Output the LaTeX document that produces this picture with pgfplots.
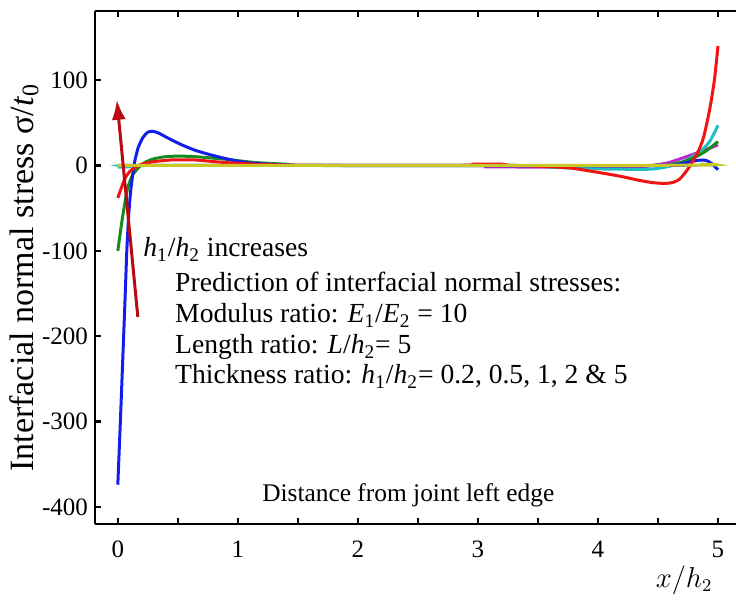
\documentclass[border=0pt]{standalone}
\usepackage{fontspec}
\setmainfont{Liberation Serif}
\usepackage{pgfplots}
\pgfplotsset{compat=1.18}
\usetikzlibrary{arrows.meta}
\definecolor{cBlue}{RGB}{20,30,235}
\definecolor{cRed}{RGB}{240,20,20}
\definecolor{cGreen}{RGB}{20,140,30}
\definecolor{cCyan}{RGB}{30,190,190}
\definecolor{cMag}{RGB}{190,40,200}
\definecolor{cYel}{RGB}{200,200,40}
\definecolor{cArrow}{RGB}{185,10,20}
\newcommand{\sub}[1]{\textsubscript{#1}}
\tikzset{txt/.style={anchor=base west, inner sep=0pt, font=\fontsize{13.8}{13.8}\selectfont}}

\begin{document}
\begin{tikzpicture}
\begin{axis}[
  scale only axis,
  width=320.5pt, height=256.5pt,
  xmin=-0.19, xmax=5.15, ymin=-420, ymax=181,
  axis x line=box, axis y line=left,
  xtick pos=both, ytick pos=left,
  axis line style={-, line width=1.2pt},
  tick align=inside,
  major tick length=3pt, minor tick length=3pt,
  tick style={line width=1.1pt, black},
  xtick={0,...,5}, minor xtick={0.5,1.5,2.5,3.5,4.5},
  ytick={-400,-300,-200,-100,0,100},
  /pgf/number format/assume math mode=true,
  ticklabel style={font=\fontsize{12.5}{12.5}\selectfont},
  xticklabel style={yshift=-5pt},
  ylabel={Interfacial normal stress σ/\textit{t}\sub{0}},
  ylabel style={font=\fontsize{17}{17}\selectfont,
    at={(axis description cs:-0.111,0.48)}, anchor=center},
  xlabel={$x/h_2$},
  xlabel style={font=\fontsize{13.5}{13.5}\selectfont,
    at={(axis description cs:0.919,-0.109)}, anchor=center},
  every axis plot/.append style={line width=1.5pt, smooth, tension=0.4},
]
% h1/h2 series near the interface
\addplot[cMag] coordinates {(0,0) (3.0,0) (3.06,-1.5) (3.6,-2) (4.0,-3) (4.3,-2.5) (4.45,0) (4.58,3) (4.71,9) (4.85,16) (5.0,24)};
\addplot[cCyan] coordinates {(0,-2) (0.1,-1.5) (0.2,0) (3.3,0) (3.6,-2) (4.0,-4) (4.4,-4.5) (4.52,-3) (4.62,0) (4.72,5) (4.85,16) (4.93,28) (5.0,47)};
\addplot[cGreen] coordinates {(0,-100) (0.04,-60) (0.08,-28) (0.12,-12) (0.17,-3) (0.22,3) (0.28,7) (0.38,10) (0.5,11) (0.62,10.5) (0.72,9.5) (0.92,7) (1.14,3.5) (1.4,1.5) (1.65,0) (4.5,0) (4.6,1) (4.7,4) (4.8,9) (4.9,17) (5.0,28)};
\addplot[cBlue] coordinates {(0,-374) (0.02,-305) (0.04,-232) (0.06,-158) (0.075,-100) (0.09,-60) (0.105,-33) (0.12,-15) (0.14,4) (0.17,21) (0.21,33) (0.25,39) (0.29,40) (0.34,38) (0.42,32) (0.52,25) (0.64,18) (0.76,13) (0.87,9) (1.0,5) (1.1,3) (1.25,1.5) (1.45,0.5) (1.7,0) (4.55,0) (4.65,1) (4.74,3.5) (4.83,6) (4.9,6) (4.95,2) (5.0,-5)};
\addplot[cRed] coordinates {(0,-38) (0.03,-26) (0.06,-15) (0.1,-7) (0.15,-2) (0.2,1.5) (0.3,4.5) (0.45,6.5) (0.64,6.5) (0.8,4.5) (0.95,3) (1.15,1.5) (1.4,0.5) (1.7,0) (2.9,0.3) (2.96,1.5) (3.2,1.5) (3.26,0.3) (3.5,-0.8) (3.77,-3) (4.04,-9) (4.2,-13) (4.33,-17) (4.45,-20) (4.55,-21) (4.62,-20) (4.68,-16) (4.74,-6) (4.79,5) (4.84,18) (4.88,33) (4.93,65) (4.97,100) (5.0,140)};
\addplot[cYel] coordinates {(0,0) (4.7,0.3) (4.85,1.5) (5.0,1)};
% trend arrow
\addplot[cArrow, -{Latex[length=10pt,width=7pt]}] coordinates {(0.167,-177.5) (-0.008,77)};

\node[txt] at (axis cs:0.21,-107) {\textit{h}\sub{1}/\textit{h}\sub{2} increases};
\node[txt] at (axis cs:0.475,-148.2) {Prediction of interfacial normal stresses:};
\node[txt] at (axis cs:0.475,-184.5) {Modulus ratio: \textit{E}\sub{1}/\textit{E}\sub{2} = 10};
\node[txt] at (axis cs:0.475,-220.8) {Length ratio: \textit{L}/\textit{h}\sub{2}= 5};
\node[txt] at (axis cs:0.475,-255.9) {Thickness ratio: \textit{h}\sub{1}/\textit{h}\sub{2}= 0.2, 0.5, 1, 2 \& 5};
\node[anchor=base, inner sep=0pt, font=\fontsize{12.7}{12.7}\selectfont] at (axis cs:2.42,-394)
  {Distance from joint left edge};
\end{axis}
\pgfresetboundingbox
\path[use as bounding box] ([shift={(-47.5pt,-39.5pt)}]current axis.south west)
  rectangle ([shift={(0pt,5.5pt)}]current axis.north east);
\end{tikzpicture}
\end{document}
